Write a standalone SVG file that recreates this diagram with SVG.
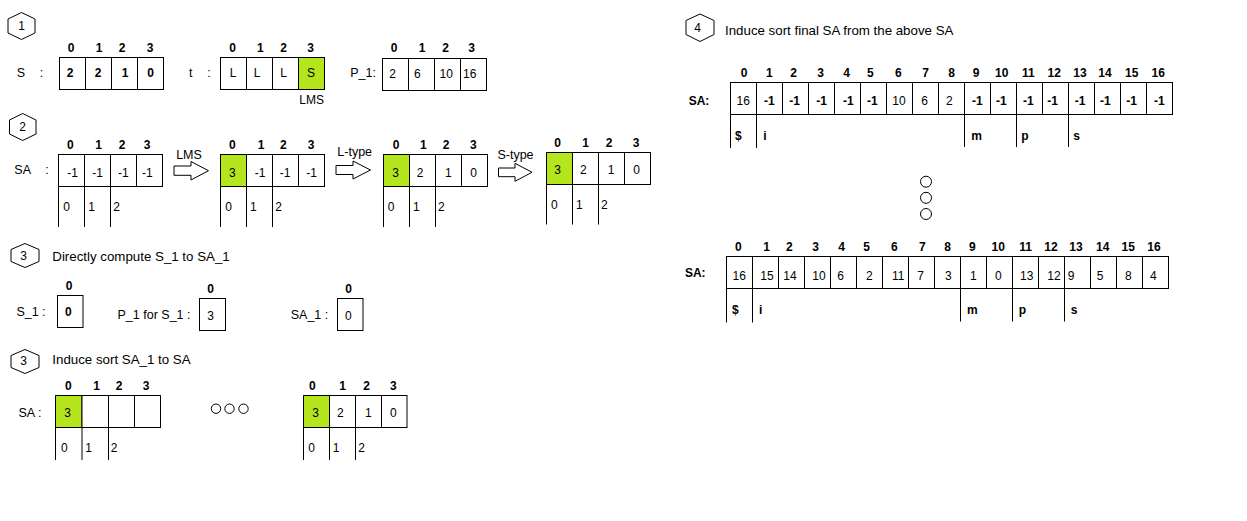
<svg xmlns="http://www.w3.org/2000/svg" width="1247" height="521" viewBox="0 0 1247 521">
<style>
text{font-family:"Liberation Sans",Arial,sans-serif;fill:#000;text-anchor:middle}
.v{font-size:12px}
.b{font-size:12px;font-weight:bold}
.vb{font-size:12px;font-weight:bold}
.h{font-size:13.3px;text-anchor:start}
.lbl{font-size:12.5px}
.c{fill:#fff;stroke:#000;stroke-width:1}
.g{fill:#b5e61d;stroke:#000;stroke-width:1}
.ln{stroke:#000;stroke-width:1;fill:none}
.hex{fill:#fff;stroke:#000;stroke-width:1}
.arr{fill:#fff;stroke:#000;stroke-width:1}
.dot{fill:#fff;stroke:#000;stroke-width:1}
</style>
<rect width="1247" height="521" fill="#fff"/>

<!-- Section 1 -->
<g id="hex1"><polygon class="hex" points="21.5,12.5 35,19 35,33 21.5,39.5 8,33 8,19"/><text class="v" x="21.5" y="30">1</text></g>

<g id="arrS">
<text class="lbl" x="21" y="77">S</text><text class="lbl" x="41.5" y="77">:</text>
<rect class="c" x="59.5" y="57.5" width="26" height="32"/><rect class="c" x="85.5" y="57.5" width="26" height="32"/><rect class="c" x="111.5" y="57.5" width="26" height="32"/><rect class="c" x="137.5" y="57.5" width="26" height="32"/>
<text class="b" x="71" y="52">0</text><text class="b" x="99" y="52">1</text><text class="b" x="122" y="52">2</text><text class="b" x="150" y="52">3</text>
<text class="vb" x="70" y="77">2</text><text class="vb" x="98" y="77">2</text><text class="vb" x="125" y="77">1</text><text class="vb" x="150.5" y="77">0</text>
</g>

<g id="arrT">
<text class="lbl" x="190.7" y="77">t</text><text class="lbl" x="209" y="77">:</text>
<rect class="c" x="220.5" y="57.5" width="26" height="32"/><rect class="c" x="246.5" y="57.5" width="26" height="32"/><rect class="c" x="272.5" y="57.5" width="26" height="32"/><rect class="g" x="298.5" y="57.5" width="26" height="32"/>
<text class="b" x="232.7" y="52">0</text><text class="b" x="260.3" y="52">1</text><text class="b" x="283.7" y="52">2</text><text class="b" x="310.7" y="52">3</text>
<text class="v" x="233" y="77">L</text><text class="v" x="257" y="77">L</text><text class="v" x="283.7" y="77">L</text><text class="v" x="311" y="77">S</text>
<text class="v" x="311.7" y="104">LMS</text>
</g>

<g id="arrP1">
<text class="lbl" x="363" y="77">P_1:</text>
<rect class="c" x="382.5" y="58.5" width="26" height="32"/><rect class="c" x="408.5" y="58.5" width="26" height="32"/><rect class="c" x="434.5" y="58.5" width="26" height="32"/><rect class="c" x="460.5" y="58.5" width="26" height="32"/>
<text class="b" x="394" y="52">0</text><text class="b" x="422" y="52">1</text><text class="b" x="445.7" y="52">2</text><text class="b" x="471.7" y="52">3</text>
<text class="v" x="392.7" y="78">2</text><text class="v" x="417.3" y="78">6</text><text class="v" x="446.3" y="78">10</text><text class="v" x="469.7" y="78">16</text>
</g>

<!-- Section 2 -->
<g id="hex2"><polygon class="hex" points="22.7,113.5 36,120 36,134 22.7,140.5 9.5,134 9.5,120"/><text class="v" x="22.7" y="131">2</text></g>

<g id="sa2a">
<text class="lbl" x="22.7" y="174">SA</text><text class="lbl" x="47" y="174">:</text>
<rect class="c" x="58.5" y="154.5" width="26" height="32"/><rect class="c" x="84.5" y="154.5" width="26" height="32"/><rect class="c" x="110.5" y="154.5" width="26" height="32"/><rect class="c" x="136.5" y="154.5" width="26" height="32"/>
<text class="b" x="70.3" y="149">0</text><text class="b" x="98.7" y="149">1</text><text class="b" x="122" y="149">2</text><text class="b" x="147" y="149">3</text>
<text class="v" x="72.7" y="177">-1</text><text class="v" x="97.7" y="177">-1</text><text class="v" x="123.3" y="177">-1</text><text class="v" x="147.3" y="177">-1</text>
<path class="ln" d="M58.5,186.5V227M84.5,186.5V227M110.5,186.5V227"/>
<text class="v" x="66.7" y="211">0</text><text class="v" x="91.7" y="211">1</text><text class="v" x="116.7" y="211">2</text>
</g>

<g id="sa2b">
<rect class="g" x="220.5" y="154.5" width="26" height="32"/><rect class="c" x="246.5" y="154.5" width="26" height="32"/><rect class="c" x="272.5" y="154.5" width="26" height="32"/><rect class="c" x="298.5" y="154.5" width="26" height="32"/>
<text class="b" x="232.3" y="149">0</text><text class="b" x="261" y="149">1</text><text class="b" x="283.3" y="149">2</text><text class="b" x="311" y="149">3</text>
<text class="v" x="232.3" y="177">3</text><text class="v" x="260" y="177">-1</text><text class="v" x="285" y="177">-1</text><text class="v" x="311.7" y="177">-1</text>
<path class="ln" d="M220.5,186.5V227M246.5,186.5V227M272.5,186.5V227"/>
<text class="v" x="228.7" y="211">0</text><text class="v" x="253.3" y="211">1</text><text class="v" x="278.7" y="211">2</text>
</g>

<g id="sa2c">
<rect class="g" x="383.5" y="154.5" width="26" height="32"/><rect class="c" x="409.5" y="154.5" width="26" height="32"/><rect class="c" x="435.5" y="154.5" width="26" height="32"/><rect class="c" x="461.5" y="154.5" width="26" height="32"/>
<text class="b" x="396" y="149">0</text><text class="b" x="423.3" y="149">1</text><text class="b" x="446" y="149">2</text><text class="b" x="473.3" y="149">3</text>
<text class="v" x="395.7" y="177">3</text><text class="v" x="420" y="177">2</text><text class="v" x="448.3" y="177">1</text><text class="v" x="473.7" y="177">0</text>
<path class="ln" d="M383.5,186.5V227M409.5,186.5V227M435.5,186.5V227"/>
<text class="v" x="391" y="211">0</text><text class="v" x="416.3" y="211">1</text><text class="v" x="441.3" y="211">2</text>
</g>

<g id="sa2d">
<rect class="g" x="546.5" y="152.5" width="26" height="32"/><rect class="c" x="572.5" y="152.5" width="26" height="32"/><rect class="c" x="598.5" y="152.5" width="26" height="32"/><rect class="c" x="624.5" y="152.5" width="26" height="32"/>
<text class="b" x="557.7" y="147">0</text><text class="b" x="585.7" y="147">1</text><text class="b" x="609" y="147">2</text><text class="b" x="636" y="147">3</text>
<text class="v" x="557.7" y="174">3</text><text class="v" x="583.3" y="174">2</text><text class="v" x="611" y="174">1</text><text class="v" x="636.7" y="174">0</text>
<path class="ln" d="M546.5,184.5V224.5M572.5,184.5V224.5M598.5,184.5V224.5"/>
<text class="v" x="554.3" y="209">0</text><text class="v" x="579.3" y="209">1</text><text class="v" x="604.3" y="209">2</text>
</g>

<g id="connectors">
<polygon class="arr" points="174,166 191,166 191,161.5 208.5,170.7 191,180 191,175.3 174,175.3"/>
<text class="lbl" x="189" y="159">LMS</text>
<polygon class="arr" points="336,165.5 353,165.5 353,161 370.5,170 353,179 353,174.5 336,174.5"/>
<text class="lbl" x="354.7" y="155.5">L-type</text>
<polygon class="arr" points="498.5,168 515,168 515,163.3 532,172.3 515,181.3 515,176.7 498.5,176.7"/>
<text class="lbl" x="515.5" y="159">S-type</text>
</g>

<!-- Section 3 -->
<g id="hex3a"><polygon class="hex" points="25,243.5 39,249.5 39,261.5 25,267.5 11,261.5 11,249.5"/><text class="v" x="23.5" y="259.5">3</text></g>
<text class="h" x="52.3" y="260.5">Directly compute S_1 to SA_1</text>

<g id="boxS1">
<text class="lbl" x="31" y="316">S_1 :</text>
<rect class="c" x="57.5" y="295.5" width="25.5" height="32"/>
<text class="b" x="69" y="289.5">0</text><text class="vb" x="68.3" y="316">0</text>
</g>
<g id="boxP1S1">
<text class="lbl" x="154" y="319">P_1 for S_1 :</text>
<rect class="c" x="199.5" y="298.5" width="26" height="32"/>
<text class="b" x="210.7" y="293">0</text><text class="v" x="210.7" y="319.5">3</text>
</g>
<g id="boxSA1">
<text class="lbl" x="309.5" y="319">SA_1 :</text>
<rect class="c" x="337.5" y="298.5" width="25.5" height="32"/>
<text class="b" x="348.7" y="293">0</text><text class="v" x="348.3" y="319.5">0</text>
</g>

<g id="hex3b"><polygon class="hex" points="25,349.5 39,355.5 39,367.5 25,373.5 11,367.5 11,355.5"/><text class="v" x="23.5" y="364.5">3</text></g>
<text class="h" x="52.3" y="363.5">Induce sort SA_1 to SA</text>

<g id="sa3a">
<text class="lbl" x="30" y="417">SA  :</text>
<rect class="g" x="55.5" y="395.5" width="26.5" height="32"/><rect class="c" x="82" y="395.5" width="26.5" height="32"/><rect class="c" x="108.5" y="395.5" width="26" height="32"/><rect class="c" x="134.5" y="395.5" width="26" height="32"/>
<text class="b" x="68.3" y="390">0</text><text class="b" x="96.7" y="390">1</text><text class="b" x="119" y="390">2</text><text class="b" x="146" y="390">3</text>
<text class="v" x="67.7" y="417">3</text>
<path class="ln" d="M55.5,427.5V460M82,427.5V460M108.5,427.5V460"/>
<text class="v" x="64.3" y="451.5">0</text><text class="v" x="88.7" y="451.5">1</text><text class="v" x="114" y="451.5">2</text>
</g>

<g id="dots3">
<circle class="dot" cx="216" cy="408.7" r="4.7"/><circle class="dot" cx="229.5" cy="408.7" r="4.7"/><circle class="dot" cx="243.5" cy="408.7" r="4.7"/>
</g>

<g id="sa3b">
<rect class="g" x="303.5" y="395.5" width="26" height="32"/><rect class="c" x="329.5" y="395.5" width="26" height="32"/><rect class="c" x="355.5" y="395.5" width="26" height="32"/><rect class="c" x="381.5" y="395.5" width="25.5" height="32"/>
<text class="b" x="312.3" y="390">0</text><text class="b" x="342.7" y="390">1</text><text class="b" x="366.7" y="390">2</text><text class="b" x="393.3" y="390">3</text>
<text class="v" x="315.7" y="417">3</text><text class="v" x="340.3" y="417">2</text><text class="v" x="368.3" y="417">1</text><text class="v" x="393.3" y="417">0</text>
<path class="ln" d="M303.5,427.5V460M329.5,427.5V460M355.5,427.5V460"/>
<text class="v" x="311.7" y="451.5">0</text><text class="v" x="336" y="451.5">1</text><text class="v" x="361.7" y="451.5">2</text>
</g>

<!-- Section 4 -->
<g id="hex4"><polygon class="hex" points="700,14 714,20.5 714,34.5 700,41.5 686,34.5 686,20.5"/><text class="v" x="697.5" y="32">4</text></g>
<text class="h" x="725" y="34.5">Induce sort final SA from the above SA</text>

<g id="saTop">
<text class="vb" x="699" y="104.5">SA:</text>
<rect class="c" x="730.5" y="82.5" width="442" height="32"/>
<path class="ln" d="M756.5,82.5V148M782.5,82.5V114.5M808.5,82.5V114.5M834.5,82.5V114.5M860.5,82.5V114.5M886.5,82.5V114.5M912.5,82.5V114.5M938.5,82.5V114.5M964.5,82.5V147M990.5,82.5V114.5M1016.5,82.5V147M1042.5,82.5V114.5M1068.5,82.5V147M1094.5,82.5V114.5M1120.5,82.5V114.5M1146.5,82.5V114.5M730.5,114.5V148"/>
<text class="b" x="744" y="77">0</text><text class="b" x="769.3" y="77">1</text><text class="b" x="793.7" y="77">2</text><text class="b" x="820.7" y="77">3</text><text class="b" x="846.7" y="77">4</text><text class="b" x="870.3" y="77">5</text><text class="b" x="898.3" y="77">6</text><text class="b" x="925.7" y="77">7</text><text class="b" x="951.7" y="77">8</text><text class="b" x="976" y="77">9</text><text class="b" x="1001.7" y="77">10</text><text class="b" x="1028.3" y="77">11</text><text class="b" x="1054.3" y="77">12</text><text class="b" x="1080" y="77">13</text><text class="b" x="1105" y="77">14</text><text class="b" x="1131.7" y="77">15</text><text class="b" x="1158.3" y="77">16</text>
<text class="v" x="743.3" y="104.5">16</text><text class="vb" x="769.3" y="104.5">-1</text><text class="vb" x="794.7" y="104.5">-1</text><text class="vb" x="821.7" y="104.5">-1</text><text class="vb" x="848.3" y="104.5">-1</text><text class="vb" x="872.3" y="104.5">-1</text><text class="v" x="899" y="104.5">10</text><text class="v" x="924.7" y="104.5">6</text><text class="v" x="949.3" y="104.5">2</text><text class="vb" x="977.3" y="104.5">-1</text><text class="vb" x="1001.3" y="104.5">-1</text><text class="vb" x="1028.3" y="104.5">-1</text><text class="vb" x="1052.7" y="104.5">-1</text><text class="vb" x="1080" y="104.5">-1</text><text class="vb" x="1105.3" y="104.5">-1</text><text class="vb" x="1131.7" y="104.5">-1</text><text class="vb" x="1159.3" y="104.5">-1</text>
<text class="vb" x="738.3" y="139.5">$</text><text class="vb" x="765" y="139.5">i</text><text class="vb" x="976.7" y="139.5">m</text><text class="vb" x="1025" y="139.5">p</text><text class="vb" x="1076.7" y="139.5">s</text>
</g>

<g id="dots4">
<circle class="dot" cx="926" cy="181.7" r="5.5"/><circle class="dot" cx="926" cy="197.8" r="5.5"/><circle class="dot" cx="926" cy="214" r="5.5"/>
</g>

<g id="saBottom">
<text class="vb" x="695.3" y="276.5">SA:</text>
<rect class="c" x="726.5" y="256.5" width="442" height="32"/>
<path class="ln" d="M752.5,256.5V322.5M778.5,256.5V288.5M804.5,256.5V288.5M830.5,256.5V288.5M856.5,256.5V288.5M882.5,256.5V288.5M908.5,256.5V288.5M934.5,256.5V288.5M960.5,256.5V321.5M986.5,256.5V288.5M1012.5,256.5V321.5M1038.5,256.5V288.5M1064.5,256.5V321.5M1090.5,256.5V288.5M1116.5,256.5V288.5M1142.5,256.5V288.5M726.5,288.5V322.5"/>
<text class="b" x="738.3" y="251">0</text><text class="b" x="766.7" y="251">1</text><text class="b" x="789.3" y="251">2</text><text class="b" x="815.7" y="251">3</text><text class="b" x="841.7" y="251">4</text><text class="b" x="866.7" y="251">5</text><text class="b" x="894.3" y="251">6</text><text class="b" x="922.3" y="251">7</text><text class="b" x="947.7" y="251">8</text><text class="b" x="972.3" y="251">9</text><text class="b" x="998.3" y="251">10</text><text class="b" x="1025.7" y="251">11</text><text class="b" x="1051" y="251">12</text><text class="b" x="1076" y="251">13</text><text class="b" x="1102.7" y="251">14</text><text class="b" x="1128.3" y="251">15</text><text class="b" x="1154" y="251">16</text>
<text class="v" x="739.3" y="279.5">16</text><text class="v" x="767" y="279.5">15</text><text class="v" x="790" y="279.5">14</text><text class="v" x="819" y="279.5">10</text><text class="v" x="840.7" y="279.5">6</text><text class="v" x="869.3" y="279.5">2</text><text class="v" x="898.3" y="279.5">11</text><text class="v" x="920.7" y="279.5">7</text><text class="v" x="948.3" y="279.5">3</text><text class="v" x="973.3" y="279.5">1</text><text class="v" x="998.3" y="279.5">0</text><text class="v" x="1026.7" y="279.5">13</text><text class="v" x="1054" y="279.5">12</text><text class="v" x="1071" y="279.5">9</text><text class="v" x="1100" y="279.5">5</text><text class="v" x="1128.3" y="279.5">8</text><text class="v" x="1153.3" y="279.5">4</text>
<text class="vb" x="735.3" y="313.5">$</text><text class="vb" x="760.7" y="313.5">i</text><text class="vb" x="972.3" y="313.5">m</text><text class="vb" x="1022.3" y="313.5">p</text><text class="vb" x="1074" y="313.5">s</text>
</g>
</svg>
